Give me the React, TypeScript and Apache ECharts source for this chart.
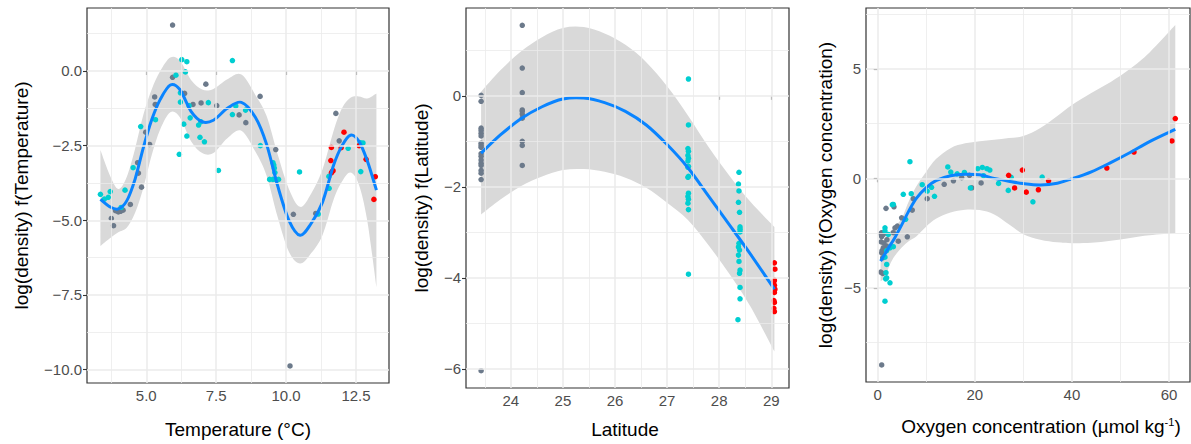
import React, { useEffect, useRef } from 'react';
import * as echarts from 'echarts';

const FONT = "'Liberation Sans', Arial, Helvetica, sans-serif";
const GREY = '#6C7A8B';
const CYAN = '#00CED1';
const RED = '#FF0000';
const LINE = '#0A84FF';
const BAND = '#D9D9D9';
const GRID_LINE = '#EBEBEB';

// ---------- Panel 1: Temperature ----------
const tempGrey = [
  [5.94, 1.54], [5.94, -0.21], [6.37, -0.75], [5.30, -0.87], [5.32, -1.12], [7.13, -0.44], [6.67, -1.12],
  [6.96, -1.07], [7.52, -1.16], [8.32, -1.47], [8.56, -1.73], [9.07, -0.85], [4.98, -2.05], [5.12, -2.46],
  [4.69, -3.07], [4.72, -3.42], [4.83, -3.89], [4.43, -4.47], [3.90, -4.68], [4.00, -4.72], [4.08, -4.70],
  [4.17, -4.66], [3.75, -4.94], [3.83, -5.18], [9.63, -2.63], [11.78, -1.42], [11.90, -2.34], [10.26, -4.80],
  [11.06, -4.77], [10.14, -9.88],
];
const tempCyan = [
  [3.36, -4.13], [3.50, -4.29], [3.64, -4.23], [3.71, -4.04], [4.24, -3.99], [4.53, -3.24], [4.80, -1.86],
  [5.33, -1.63], [4.10, -4.57], [6.27, 0.38], [6.45, 0.31], [6.40, -0.03], [6.06, -0.14], [6.22, -0.73],
  [6.22, -1.04], [6.53, -1.16], [6.34, -1.78], [6.57, -1.57], [6.87, -1.81], [6.95, -1.70], [6.45, -2.18],
  [6.92, -2.22], [7.08, -2.37], [6.18, -2.79], [7.22, -1.06], [7.58, -3.33], [8.08, 0.35], [8.08, -1.46],
  [8.20, -1.17], [8.55, -1.31], [9.08, -2.50], [9.53, -3.07], [9.56, -3.15], [9.58, -3.25], [9.60, -3.40],
  [9.41, -3.63], [9.53, -3.63], [9.63, -3.63], [9.73, -3.63], [10.48, -3.38], [11.15, -4.79], [11.53, -3.53],
  [11.54, -3.93], [12.22, -2.59], [12.65, -2.40], [12.75, -2.41], [12.67, -3.37],
];
const tempRed = [
  [11.62, -2.56], [11.60, -3.00], [11.68, -3.34], [11.62, -3.41], [11.65, -3.37], [12.07, -2.05],
  [11.97, -2.57], [12.61, -2.50], [12.86, -2.96], [13.19, -3.54], [13.14, -4.30],
];
const tempFitX = [3.36, 3.7, 4.0, 4.3, 4.6, 4.9, 5.2, 5.5, 5.86, 6.2, 6.6, 7.0, 7.4, 7.9, 8.4, 8.9, 9.3, 9.7, 10.1, 10.5, 10.9, 11.3, 11.7, 12.0, 12.3, 12.6, 12.9, 13.23];
const tempFit = [-4.30, -4.55, -4.62, -4.35, -3.62, -2.55, -1.62, -0.95, -0.47, -0.62, -1.35, -1.70, -1.65, -1.25, -1.05, -1.55, -2.45, -3.85, -5.00, -5.50, -5.10, -4.40, -3.15, -2.50, -2.15, -2.35, -3.00, -3.99];
const tempUpper = [-2.65, -3.5, -3.95, -3.55, -2.6, -1.45, -0.6, 0.0, 0.45, 0.35, -0.3, -0.62, -0.6, -0.28, -0.12, -0.8, -1.5, -2.8, -3.95, -4.55, -4.1, -3.3, -2.0, -1.25, -0.9, -0.85, -0.92, -0.75];
const tempLower = [-5.86, -5.6, -5.4, -5.25, -4.75, -3.9, -2.8, -1.95, -1.38, -1.55, -2.35, -2.75, -2.75, -2.25, -2.0, -2.7, -3.5, -4.9, -6.05, -6.45, -6.1, -5.5, -4.3, -3.7, -3.4, -3.8, -5.0, -7.24];
const tempXTicks = [5, 7.5, 10, 12.5];
const tempXLabels = ['5.0', '7.5', '10.0', '12.5'];
const tempXMinor = [3.75, 6.25, 8.75, 11.25];
const tempYTicks = [-10, -7.5, -5, -2.5, 0];
const tempYLabels = ['\u221210.0', '\u22127.5', '\u22125.0', '\u22122.5', '0.0'];
const tempYMinor = [-8.75, -6.25, -3.75, -1.25, 1.25];

// ---------- Panel 2: Latitude ----------
const latGrey = [
  [23.43, 0.01], [23.43, -0.12], [23.43, -0.71], [23.43, -0.76], [23.43, -0.82], [23.43, -0.88], [23.43, -1.04],
  [23.43, -1.09], [23.43, -1.13], [23.43, -1.27], [23.43, -1.33], [23.43, -1.41], [23.43, -1.48], [23.43, -1.53],
  [23.43, -1.64], [23.43, -1.70], [23.43, -1.84], [23.43, -6.04],
  [24.22, 1.55], [24.22, 0.61], [24.22, 0.07], [24.22, -0.31], [24.22, -0.34], [24.22, -0.40], [24.22, -0.49],
  [24.22, -1.00], [24.22, -1.09], [24.22, -1.53],
];
const latCyan = [
  [27.41, 0.37], [27.41, -0.64], [27.40, -1.16], [27.41, -1.22], [27.40, -1.31], [27.41, -1.37], [27.40, -1.43],
  [27.41, -1.55], [27.40, -1.57], [27.41, -1.77], [27.40, -1.79], [27.41, -2.14], [27.40, -2.21], [27.41, -2.27],
  [27.40, -2.36], [27.41, -2.50], [27.41, -3.92],
  [28.38, -1.68], [28.37, -1.94], [28.38, -2.09], [28.37, -2.34], [28.39, -2.56], [28.40, -2.88], [28.40, -2.93],
  [28.40, -2.99], [28.38, -3.24], [28.37, -3.32], [28.39, -3.39], [28.37, -3.50], [28.38, -3.64], [28.40, -3.83],
  [28.39, -3.90], [28.40, -4.21], [28.40, -4.46], [28.36, -4.92],
];
const latRed = [
  [29.06, -3.67], [29.07, -3.81], [29.06, -4.05], [29.05, -4.08], [29.06, -4.16], [29.07, -4.25], [29.06, -4.32],
  [29.05, -4.50], [29.06, -4.54], [29.05, -4.67], [29.06, -4.74],
];
const latFitX = [23.43, 23.8, 24.2, 24.6, 25.0, 25.4, 25.8, 26.2, 26.6, 27.0, 27.4, 27.8, 28.2, 28.6, 29.06];
const latFit = [-1.26, -0.86, -0.50, -0.24, -0.07, -0.05, -0.15, -0.34, -0.64, -1.07, -1.58, -2.21, -2.84, -3.48, -4.25];
const latUpper = [0.09, 0.56, 0.98, 1.29, 1.49, 1.51, 1.37, 1.12, 0.74, 0.21, -0.43, -1.13, -1.76, -2.33, -2.88];
const latLower = [-2.61, -2.28, -1.98, -1.77, -1.63, -1.61, -1.67, -1.80, -2.02, -2.35, -2.73, -3.29, -3.92, -4.63, -5.62];
const latXTicks = [24, 25, 26, 27, 28, 29];
const latXLabels = ['24', '25', '26', '27', '28', '29'];
const latXMinor = [23.5, 24.5, 25.5, 26.5, 27.5, 28.5];
const latYTicks = [-6, -4, -2, 0];
const latYLabels = ['\u22126', '\u22124', '\u22122', '0'];
const latYMinor = [-5, -3, -1, 1];

// ---------- Panel 3: Oxygen ----------
const oxyGrey = [
  [1.71, -1.37], [3.35, -1.30], [7.33, -0.93], [7.12, -1.45], [10.2, -0.93], [13.7, -0.27], [15.6, -0.11],
  [17.3, 0.03], [18.9, 0.14], [19.4, -0.43], [21.3, -0.21], [4.93, -1.80], [4.04, -2.18], [3.56, -2.26],
  [3.22, -2.48], [6.10, -2.67], [4.24, -2.87], [0.82, -2.48], [0.82, -2.66], [1.16, -2.56], [1.85, -3.09],
  [1.16, -3.17], [0.82, -3.40], [1.03, -3.63], [1.50, -3.25], [0.62, -4.28], [1.03, -4.34], [0.82, -8.52],
  [0.62, -2.53], [0.70, -2.90], [1.30, -2.95], [1.90, -2.80], [0.90, -3.30],
];
const oxyCyan = [
  [6.64, 0.76], [3.01, -1.20], [5.27, -0.73], [6.91, -0.70], [9.17, -0.29], [10.2, -0.58], [11.09, -0.41],
  [11.70, -0.82], [14.44, 0.52], [15.05, 0.29], [16.37, 0.21], [17.86, 0.27], [19.1, -0.44], [20.6, 0.44],
  [21.56, 0.50], [22.5, 0.44], [23.1, 0.38], [21.8, 0.12], [24.9, -0.23], [26.9, -0.55], [27.5, 0.05],
  [31.97, -1.07], [33.88, 0.06], [5.75, -1.87], [1.50, -5.61], [2.53, -4.77], [1.85, -4.54], [1.71, -4.31],
  [1.85, -3.93], [1.50, -2.26], [1.50, -2.40], [2.19, -2.56], [3.22, -1.19], [3.22, -3.12], [2.53, -3.17],
  [1.85, -3.30], [1.50, -3.60], [1.64, -4.59],
];
const oxyRed = [
  [26.97, 0.14], [28.2, -0.44], [29.8, 0.38], [30.6, -0.63], [33.1, -0.52], [35.2, -0.11], [47.2, 0.47],
  [52.8, 1.20], [60.6, 1.71], [61.3, 2.73],
];
const oxyFitX = [0.6, 1.5, 2.5, 3.5, 5, 6.5, 8, 10, 12, 15, 18, 21, 24, 27, 30, 33.5, 37, 40, 44, 48, 52, 56, 61.3];
const oxyFit = [-3.78, -3.45, -3.08, -2.72, -2.1, -1.45, -0.9, -0.42, -0.1, 0.12, 0.19, 0.16, 0.0, -0.13, -0.24, -0.30, -0.22, -0.02, 0.3, 0.72, 1.18, 1.68, 2.24];
const oxyUpper = [-3.05, -2.75, -2.45, -2.2, -1.8, -1.0, -0.35, 0.3, 0.88, 1.38, 1.6, 1.7, 1.76, 1.84, 1.93, 2.3, 2.85, 3.35, 3.9, 4.4, 5.0, 5.75, 7.0];
const oxyLower = [-4.7, -4.5, -3.95, -3.55, -3.15, -2.85, -2.64, -2.2, -1.85, -1.56, -1.43, -1.45, -1.65, -2.1, -2.55, -2.8, -2.92, -2.96, -2.94, -2.85, -2.72, -2.6, -2.5];
const oxyXTicks = [0, 20, 40, 60];
const oxyXLabels = ['0', '20', '40', '60'];
const oxyXMinor = [10, 30, 50];
const oxyYTicks = [-5, 0, 5];
const oxyYLabels = ['\u22125', '0', '5'];
const oxyYMinor = [-7.5, -2.5, 2.5, 7.5];

const panels = [
  {
    grid: { left: 87, top: 8, width: 302, height: 375 },
    xMin: 2.88, xMax: 13.68, yMin: -10.45, yMax: 2.11,
    xTicks: tempXTicks, xLabels: tempXLabels, xMinor: tempXMinor,
    yTicks: tempYTicks, yLabels: tempYLabels, yMinor: tempYMinor,
    grey: tempGrey, cyan: tempCyan, red: tempRed,
    fitX: tempFitX, fit: tempFit, upper: tempUpper, lower: tempLower,
  },
  {
    grid: { left: 466, top: 8, width: 323, height: 380 },
    xMin: 23.14, xMax: 29.34, yMin: -6.42, yMax: 1.93,
    xTicks: latXTicks, xLabels: latXLabels, xMinor: latXMinor,
    yTicks: latYTicks, yLabels: latYLabels, yMinor: latYMinor,
    grey: latGrey, cyan: latCyan, red: latRed,
    fitX: latFitX, fit: latFit, upper: latUpper, lower: latLower,
  },
  {
    grid: { left: 866, top: 8, width: 324, height: 374 },
    xMin: -2.41, xMax: 64.33, yMin: -9.30, yMax: 7.78,
    xTicks: oxyXTicks, xLabels: oxyXLabels, xMinor: oxyXMinor,
    yTicks: oxyYTicks, yLabels: oxyYLabels, yMinor: oxyYMinor,
    grey: oxyGrey, cyan: oxyCyan, red: oxyRed,
    fitX: oxyFitX, fit: oxyFit, upper: oxyUpper, lower: oxyLower,
  },
];

function labelFor(ticks: number[], labels: string[]) {
  return (v: number) => {
    const i = ticks.findIndex((t) => Math.abs(t - v) < 1e-6);
    return i >= 0 ? labels[i] : '';
  };
}

// Catmull-Rom spline through pixel points, as cubic Bezier segments (rendering only)
function splineSegs(pts: number[][]) {
  let d = '';
  for (let i = 0; i < pts.length - 1; i++) {
    const p0 = pts[i - 1] || pts[i];
    const p1 = pts[i];
    const p2 = pts[i + 1];
    const p3 = pts[i + 2] || p2;
    const c1x = p1[0] + (p2[0] - p0[0]) / 6;
    const c1y = p1[1] + (p2[1] - p0[1]) / 6;
    const c2x = p2[0] - (p3[0] - p1[0]) / 6;
    const c2y = p2[1] - (p3[1] - p1[1]) / 6;
    d += ` C${c1x.toFixed(2)},${c1y.toFixed(2)} ${c2x.toFixed(2)},${c2y.toFixed(2)} ${p2[0].toFixed(2)},${p2[1].toFixed(2)}`;
  }
  return d;
}

function buildOption() {
  const grids: any[] = [];
  const xAxes: any[] = [];
  const yAxes: any[] = [];
  const series: any[] = [];

  panels.forEach((p, i) => {
    grids.push({
      ...p.grid,
      show: true,
      borderColor: '#333333',
      borderWidth: 1.2,
      backgroundColor: '#FFFFFF',
      containLabel: false,
    });
    const axisCommon = {
      gridIndex: i,
      type: 'value',
      axisLine: { show: false },
      splitLine: { show: false },
      minorSplitLine: { show: false },
    };
    xAxes.push({
      ...axisCommon,
      min: p.xMin,
      max: p.xMax,
      axisTick: { show: true, length: 4, lineStyle: { color: '#333333', width: 1.1 }, customValues: p.xTicks },
      axisLabel: {
        show: true, color: '#4D4D4D', fontSize: 15, fontFamily: FONT, margin: 5,
        customValues: p.xTicks, formatter: labelFor(p.xTicks, p.xLabels),
      },
    });
    yAxes.push({
      ...axisCommon,
      min: p.yMin,
      max: p.yMax,
      axisTick: { show: true, length: 4, lineStyle: { color: '#333333', width: 1.1 }, customValues: p.yTicks },
      axisLabel: {
        show: true, color: '#4D4D4D', fontSize: 15, fontFamily: FONT, margin: 5,
        customValues: p.yTicks, formatter: labelFor(p.yTicks, p.yLabels),
      },
    });

    const gl: any[] = [];
    p.xMinor.forEach((v) => gl.push({ xAxis: v, lineStyle: { color: GRID_LINE, width: 0.8, type: 'solid' } }));
    p.yMinor.forEach((v) => gl.push({ yAxis: v, lineStyle: { color: GRID_LINE, width: 0.8, type: 'solid' } }));
    p.xTicks.forEach((v) => gl.push({ xAxis: v, lineStyle: { color: GRID_LINE, width: 1.5, type: 'solid' } }));
    p.yTicks.forEach((v) => gl.push({ yAxis: v, lineStyle: { color: GRID_LINE, width: 1.5, type: 'solid' } }));

    series.push({
      type: 'line',
      xAxisIndex: i,
      yAxisIndex: i,
      data: [],
      z: 1,
      silent: true,
      markLine: {
        silent: true,
        symbol: ['none', 'none'],
        label: { show: false },
        emphasis: { disabled: true },
        animation: false,
        data: gl,
      },
    });

    // confidence ribbon
    series.push({
      type: 'custom',
      xAxisIndex: i,
      yAxisIndex: i,
      data: p.fitX.map((x, k) => [x, p.lower[k], p.upper[k]]),
      encode: { x: 0, y: [1, 2] },
      clip: true,
      silent: true,
      z: 2,
      renderItem: (params: any, api: any) => {
        if (params.dataIndex !== 0) return null;
        const up = p.fitX.map((x, k) => api.coord([x, p.upper[k]]));
        const lo = p.fitX.map((x, k) => api.coord([x, p.lower[k]])).reverse();
        const d = `M${up[0][0]},${up[0][1]}` + splineSegs(up) + ` L${lo[0][0]},${lo[0][1]}` + splineSegs(lo) + ' Z';
        return { type: 'path', shape: { pathData: d }, style: { fill: BAND, stroke: null } };
      },
    });

    const sc = (data: number[][], color: string) => ({
      type: 'scatter',
      xAxisIndex: i,
      yAxisIndex: i,
      data,
      symbol: 'circle',
      symbolSize: 5.5,
      itemStyle: { color, opacity: 1 },
      silent: true,
      z: 3,
    });
    series.push(sc(p.grey, GREY));
    series.push(sc(p.cyan, CYAN));
    series.push(sc(p.red, RED));

    // fitted smooth
    series.push({
      type: 'custom',
      xAxisIndex: i,
      yAxisIndex: i,
      data: p.fitX.map((x, k) => [x, p.fit[k]]),
      encode: { x: 0, y: 1 },
      clip: true,
      silent: true,
      z: 4,
      renderItem: (params: any, api: any) => {
        if (params.dataIndex !== 0) return null;
        const pts = p.fitX.map((x, k) => api.coord([x, p.fit[k]]));
        const d = `M${pts[0][0]},${pts[0][1]}` + splineSegs(pts);
        return {
          type: 'path',
          shape: { pathData: d },
          style: { fill: 'none', stroke: LINE, lineWidth: 3, lineCap: 'butt', lineJoin: 'round' },
        };
      },
    });
  });

  const titleStyle = { fill: '#000000', fontSize: 19, fontFamily: FONT, align: 'center', verticalAlign: 'middle' };

  const graphic = [
    { type: 'text', x: 238, y: 429, style: { ...titleStyle, text: 'Temperature (°C)' } },
    { type: 'text', x: 625, y: 429, style: { ...titleStyle, text: 'Latitude' } },
    {
      type: 'text', x: 1041, y: 426,
      style: {
        ...titleStyle,
        text: '{n|Oxygen concentration (µmol kg}{s|-1}{n|)}',
        rich: {
          n: { fontSize: 19, fontFamily: FONT, fill: '#000000' },
          s: { fontSize: 11, fontFamily: FONT, fill: '#000000', verticalAlign: 'top' },
        },
      },
    },
    { type: 'text', x: 21.5, y: 195.5, rotation: Math.PI / 2, style: { ...titleStyle, text: 'log(density) f(Temperature)' } },
    { type: 'text', x: 421, y: 198, rotation: Math.PI / 2, style: { ...titleStyle, text: 'log(density) f(Latitude)' } },
    { type: 'text', x: 825, y: 195, rotation: Math.PI / 2, style: { ...titleStyle, text: 'log(density) f(Oxygen concentration)' } },
  ];

  return {
    animation: false,
    backgroundColor: '#FFFFFF',
    textStyle: { fontFamily: FONT },
    grid: grids,
    xAxis: xAxes,
    yAxis: yAxes,
    series,
    graphic,
  };
}

export default function App() {
  const ref = useRef<HTMLDivElement>(null);
  useEffect(() => {
    if (!ref.current) return;
    const chart = echarts.init(ref.current, undefined, { renderer: 'svg' });
    chart.setOption(buildOption() as any);
    return () => chart.dispose();
  }, []);
  return (
    <div
      ref={ref}
      style={{ position: 'fixed', left: 0, top: 0, width: 1191, height: 444, background: '#FFFFFF' }}
    />
  );
}
